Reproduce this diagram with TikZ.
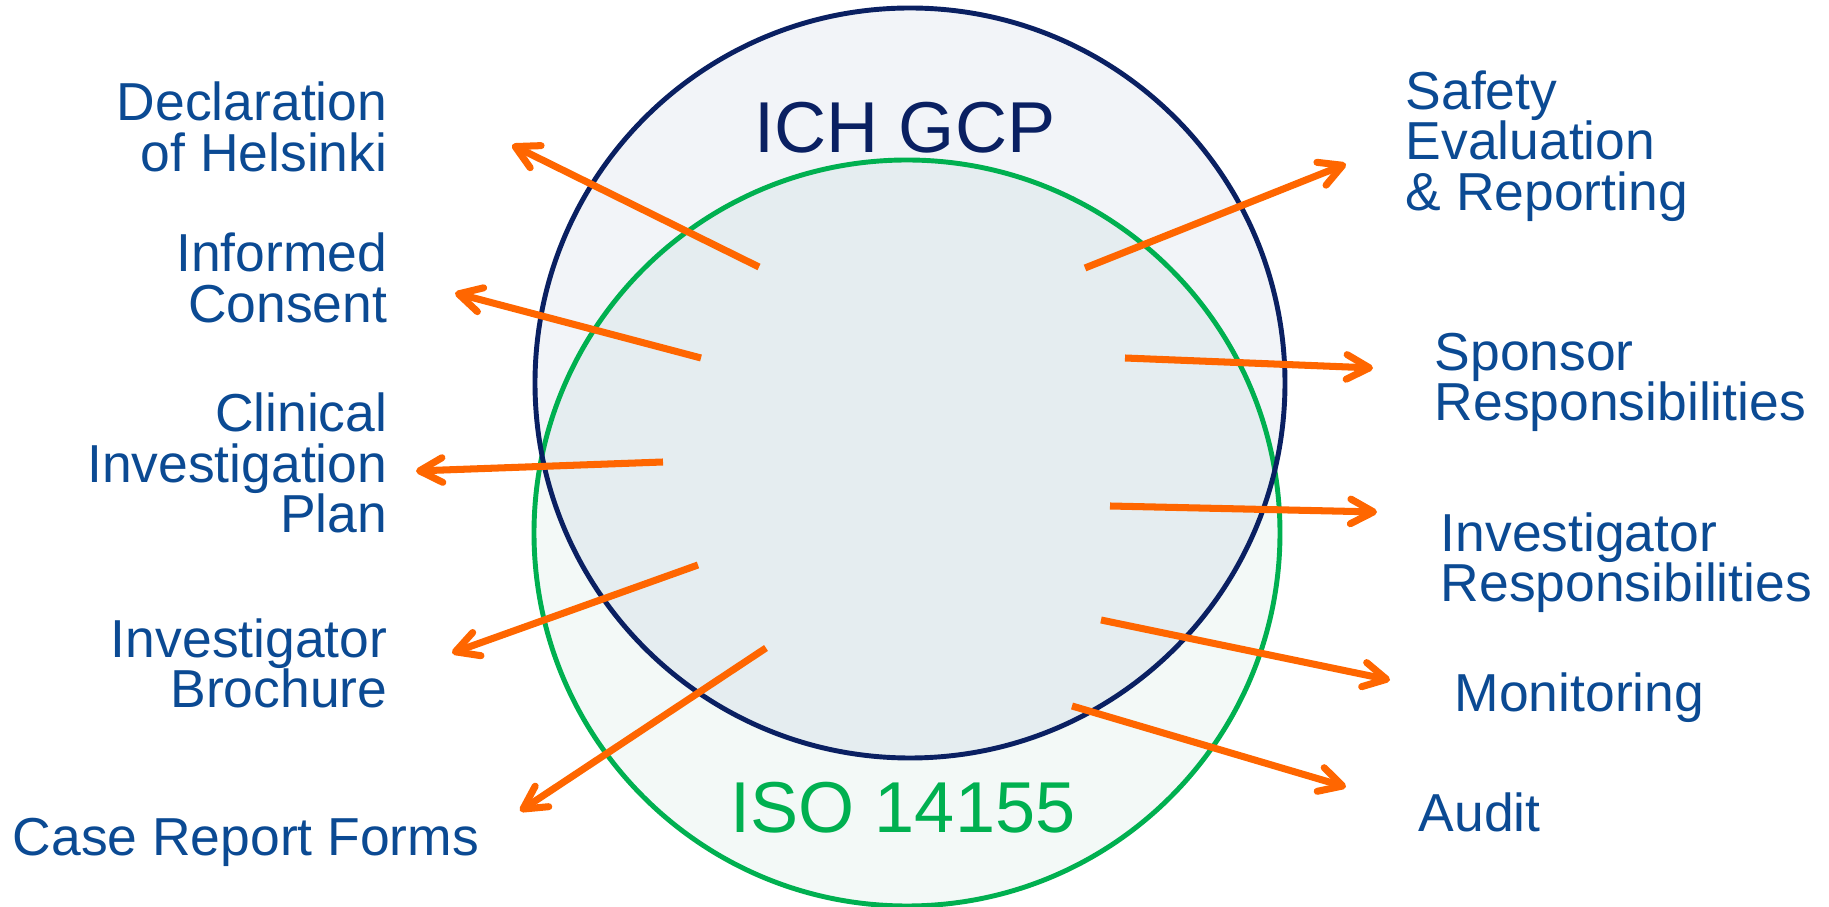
\documentclass[tikz,border=0pt]{standalone}
\usepackage{fontspec}
\setmainfont{Liberation Sans}
\usetikzlibrary{arrows.meta}

\definecolor{gcpnavy}{HTML}{0A2062}
\definecolor{isogreen}{HTML}{00B050}
\definecolor{txtblue}{HTML}{0B4A93}
\definecolor{arrorange}{HTML}{FF6600}
\definecolor{gcpfill}{HTML}{F2F4F8}
\definecolor{isofill}{HTML}{F3F9F7}
\definecolor{bothfill}{HTML}{E5EDF0}

\begin{document}
\begin{tikzpicture}[x=0.01cm,y=-0.01cm,
    lbl/.style={text=txtblue,font=\fontsize{15.2}{14.5}\selectfont,inner sep=0pt},
    ttl/.style={font=\fontsize{20.5}{24}\selectfont,inner sep=0pt,anchor=base},
    arr/.style={-{Straight Barb[length=6.5pt,width=7pt,round]},arrorange,line width=2pt}]
  \useasboundingbox (0,0) rectangle (1829,907);

  % the two overlapping circles
  \fill[gcpfill] (910,383) circle[radius=375];
  \fill[isofill] (907,533) circle[radius=373];
  \begin{scope}
    \clip (910,383) circle[radius=375];
    \fill[bothfill] (907,533) circle[radius=373];
  \end{scope}
  \draw[isogreen,line width=1.4pt] (907,533) circle[radius=373];
  \draw[gcpnavy,line width=1.4pt] (910,383) circle[radius=375];

  \node[ttl,text=gcpnavy] (gcp) at (905,153) {ICH GCP};
  \node[ttl,text=isogreen] (iso) at (903,833) {ISO 14155};

  % left side (base = last line)
  \node[lbl,anchor=base east,align=right] (helsinki) at (388,172) {Declaration\\of Helsinki};
  \node[lbl,anchor=base east,align=right] (consent) at (388,323) {Informed\\Consent};
  \node[lbl,anchor=base east,align=right] (cip) at (388,533) {Clinical\\Investigation\\Plan};
  \node[lbl,anchor=base east,align=right] (brochure) at (388,708) {Investigator\\Brochure};
  \node[lbl,anchor=base west] (crf) at (12,856) {Case Report Forms};

  % right side
  \node[lbl,anchor=base west,align=left] (safety) at (1405,211) {Safety\\Evaluation\\\& Reporting};
  \node[lbl,anchor=base west,align=left] (sponsor) at (1434,421) {Sponsor\\Responsibilities};
  \node[lbl,anchor=base west,align=left] (invresp) at (1440,602) {Investigator\\Responsibilities};
  \node[lbl,anchor=base west] (monitor) at (1454,712) {Monitoring};
  \node[lbl,anchor=base west] (audit) at (1418,832) {Audit};

  % arrow ends
  \coordinate (helsinki-s) at (759,267);  \coordinate (helsinki-e) at (512,145);
  \coordinate (consent-s) at (701,358);   \coordinate (consent-e) at (455,293);
  \coordinate (cip-s) at (663,462);       \coordinate (cip-e) at (416,471);
  \coordinate (brochure-s) at (698,565);  \coordinate (brochure-e) at (452,653);
  \coordinate (crf-s) at (766,648);       \coordinate (crf-e) at (520,811);
  \coordinate (safety-s) at (1085,268);   \coordinate (safety-e) at (1346,164);
  \coordinate (sponsor-s) at (1125,358);  \coordinate (sponsor-e) at (1373,368);
  \coordinate (invresp-s) at (1110,506);  \coordinate (invresp-e) at (1377,512);
  \coordinate (monitor-s) at (1101,620);  \coordinate (monitor-e) at (1390,680);
  \coordinate (audit-s) at (1072,706);    \coordinate (audit-e) at (1346,787);

  \foreach \a in {helsinki,consent,cip,brochure,crf,safety,sponsor,invresp,monitor,audit}
    \draw[arr] (\a-s) -- (\a-e);
\end{tikzpicture}
\end{document}
